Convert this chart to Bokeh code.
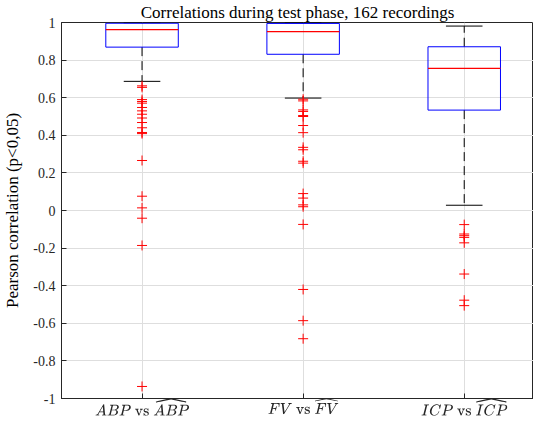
from bokeh.plotting import figure
from bokeh.models import FixedTicker, TeX, Range1d, Title
from bokeh.embed import file_html
from bokeh.resources import INLINE

# ---- data ----
positions = [1, 2, 3]
tick_labels = [r"ABP \text{ vs } \widehat{ABP}",
               r"FV \text{ vs } \widehat{FV}",
               r"ICP \text{ vs } \widehat{ICP}"]
q1 = [0.869, 0.831, 0.534]
median = [0.962, 0.951, 0.756]
q3 = [0.996, 0.995, 0.871]
lower_whisker = [0.687, 0.598, 0.028]
upper_whisker = [0.999, 0.999, 0.981]

outliers_abp = [0.663, 0.655, 0.590, 0.580, 0.571, 0.548, 0.530, 0.512, 0.492,
                0.468, 0.440, 0.415, 0.409, 0.266, 0.076, 0.014, -0.041, -0.186, -0.936]
outliers_fv = [0.592, 0.583, 0.535, 0.527, 0.505, 0.500, 0.452, 0.414, 0.336, 0.323,
               0.262, 0.252, 0.090, 0.066, 0.030, 0.020, -0.074, -0.420, -0.586, -0.682]
outliers_icp = [-0.075, -0.125, -0.134, -0.143, -0.172, -0.338, -0.477, -0.506]

y_ticks = [-1, -0.8, -0.6, -0.4, -0.2, 0, 0.2, 0.4, 0.6, 0.8, 1]

title_text = "Correlations during test phase, 162 recordings"
ylabel_text = "Pearson correlation (p<0,05)"

# ---- styling constants ----
BOX_W = 0.45
CAP_W = 0.227
SERIF = "Liberation Serif"
AX_COL = "#262626"

p = figure(width=533, height=418, output_backend="svg", toolbar_location=None,
           x_range=Range1d(0.5, 3.43), y_range=Range1d(-1, 1),
           min_border=0, min_border_left=10, min_border_right=0, min_border_top=0,
           min_border_bottom=0)
p.title = Title(text=title_text, align="center", text_font=SERIF,
                text_font_size="17px", text_font_style="normal",
                text_color="#000000", standoff=1, offset=0)

p.background_fill_color = "white"
p.border_fill_color = "white"
p.outline_line_color = AX_COL
p.outline_line_width = 1

# axes
for ax in (p.xaxis[0], p.yaxis[0]):
    ax.axis_line_color = AX_COL
    ax.major_tick_line_color = AX_COL
    ax.major_tick_in = 5
    ax.major_tick_out = 0
    ax.minor_tick_line_color = None
    ax.major_label_text_font = SERIF
    ax.major_label_text_color = "#262626"

p.xaxis.ticker = FixedTicker(ticks=positions)
p.xaxis.major_label_overrides = {pos: TeX(text=lab) for pos, lab in zip(positions, tick_labels)}
p.xaxis.major_label_text_font_size = "14px"
p.xaxis.major_label_standoff = -2

p.yaxis.ticker = FixedTicker(ticks=y_ticks)
p.yaxis.major_label_overrides = {t: ("%g" % t) for t in y_ticks}
p.yaxis.major_label_text_font_size = "14px"
p.yaxis.major_label_standoff = 6
p.yaxis.axis_label = ylabel_text
p.yaxis.axis_label_text_font = SERIF
p.yaxis.axis_label_text_font_size = "17px"
p.yaxis.axis_label_text_font_style = "normal"
p.yaxis.axis_label_text_color = "#000000"
p.yaxis.axis_label_standoff = 8

p.xgrid.ticker = FixedTicker(ticks=positions)
p.ygrid.ticker = FixedTicker(ticks=y_ticks)
for g in (p.xgrid[0], p.ygrid[0]):
    g.grid_line_color = "#dedede"
    g.grid_line_width = 1

# whiskers (dashed stems)
p.segment(x0=positions, y0=q3, x1=positions, y1=upper_whisker,
          line_color="black", line_dash="9 5", line_width=1)
p.segment(x0=positions, y0=q1, x1=positions, y1=lower_whisker,
          line_color="black", line_dash="9 5", line_width=1)
# caps
p.segment(x0=[x - CAP_W / 2 for x in positions], y0=upper_whisker,
          x1=[x + CAP_W / 2 for x in positions], y1=upper_whisker,
          line_color="black", line_width=1)
p.segment(x0=[x - CAP_W / 2 for x in positions], y0=lower_whisker,
          x1=[x + CAP_W / 2 for x in positions], y1=lower_whisker,
          line_color="black", line_width=1)
# boxes
p.vbar(x=positions, width=BOX_W, bottom=q1, top=q3, fill_color=None,
       line_color="#0000ff", line_width=1)
# medians
p.segment(x0=[x - BOX_W / 2 for x in positions], y0=median,
          x1=[x + BOX_W / 2 for x in positions], y1=median,
          line_color="#ff0000", line_width=1.2)
# outliers
for pos, vals in zip(positions, [outliers_abp, outliers_fv, outliers_icp]):
    p.scatter(x=[pos] * len(vals), y=vals, marker="cross", size=10,
              line_color="#ff0000", line_width=1)

open("out.html", "w").write(file_html(p, INLINE))
